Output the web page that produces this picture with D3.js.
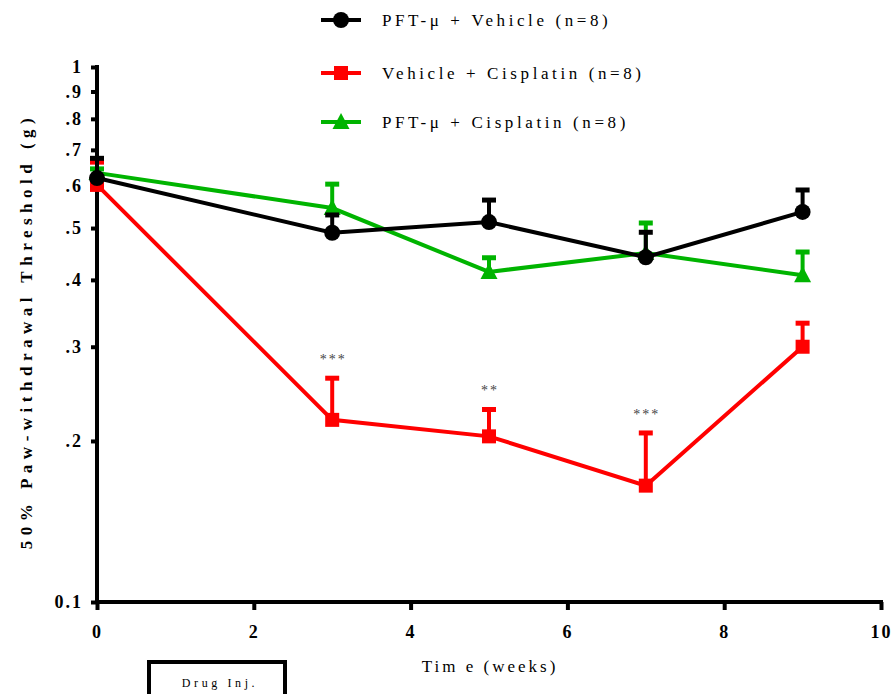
<!DOCTYPE html>
<html>
<head>
<meta charset="utf-8">
<script src="https://cdn.jsdelivr.net/npm/d3@7"></script>
<style>
  body { margin: 0; background: #fff; }
  svg text { font-family: "Liberation Serif", "DejaVu Serif", serif; }
</style>
</head>
<body>
<svg id="chart" width="896" height="694"></svg>
<script>
// ***** Data *****
const weeks = [0, 3, 5, 7, 9];
const seriesNames = ["PFT-\u03bc + Vehicle (n=8)", "Vehicle + Cisplatin (n=8)", "PFT-\u03bc + Cisplatin (n=8)"];
const seriesColors = ["#000000", "#ff0000", "#00b400"];
const seriesShapes = ["circle", "square", "triangle"];
const vehicleMean = [0.62, 0.49, 0.513, 0.441, 0.536];
const vehicleUpper = [0.675, 0.529, 0.564, 0.491, 0.589];
const cisplatinMean = [0.602, 0.219, 0.204, 0.165, 0.300];
const cisplatinUpper = [0.664, 0.262, 0.229, 0.207, 0.332];
const pftCisMean = [0.634, 0.545, 0.414, 0.449, 0.408];
const pftCisUpper = [0.645, 0.604, 0.44, 0.511, 0.451];
const sigMarks = ["", "***", "**", "***", ""];
const yTickValues = [0.1, 0.2, 0.3, 0.4, 0.5, 0.6, 0.7, 0.8, 0.9, 1];
const yTickLabels = ["0.1", ".2", ".3", ".4", ".5", ".6", ".7", ".8", ".9", "1"];
const xTickValues = [0, 2, 4, 6, 8, 10];

const svg = d3.select("#chart");
const xScale = d3.scaleLinear().domain([0, 10]).range([97, 881]);
const yScale = d3.scaleLog().domain([0.1, 1]).range([602, 67]);

// ***** Axes *****
const xAxis = svg.append("g")
  .attr("transform", "translate(0," + 602 + ")")
  .call(d3.axisBottom(xScale).tickValues(xTickValues).tickSize(8).tickSizeOuter(0).tickPadding(15));
xAxis.select(".domain").attr("stroke-width", 4).attr("d", "M95,0H883");
xAxis.selectAll(".tick line").attr("stroke-width", 4);
xAxis.selectAll(".tick text")
  .attr("font-size", 18).attr("font-weight", "bold").attr("fill", "#000")
  .style("letter-spacing", "2px");

const yAxis = svg.append("g")
  .attr("transform", "translate(97,0)")
  .call(d3.axisLeft(yScale).tickValues(yTickValues)
    .tickFormat((d, i) => yTickLabels[i]).tickSize(6).tickSizeOuter(0).tickPadding(8));
yAxis.select(".domain").attr("stroke-width", 4).attr("d", "M0,65V604");
yAxis.selectAll(".tick line").attr("stroke-width", 4);
yAxis.selectAll(".tick text")
  .attr("font-size", 18).attr("font-weight", "bold").attr("fill", "#000")
  .style("letter-spacing", "2px");

// ***** Axis titles *****
svg.append("text")
  .attr("transform", "translate(32,331) rotate(-90)")
  .attr("text-anchor", "middle")
  .attr("font-size", 17).attr("font-weight", "bold")
  .style("letter-spacing", "5.5px")
  .text("50% Paw-withdrawal Threshold (g)");

svg.append("text")
  .attr("x", 490).attr("y", 672)
  .attr("text-anchor", "middle")
  .attr("font-size", 17)
  .style("letter-spacing", "3px")
  .text("Tim e (weeks)");

// Drug injection box
svg.append("rect")
  .attr("x", 149).attr("y", 662).attr("width", 136).attr("height", 50)
  .attr("fill", "none").attr("stroke", "#000").attr("stroke-width", 4);
svg.append("text")
  .attr("x", 220).attr("y", 687).attr("text-anchor", "middle")
  .attr("font-size", 12).style("letter-spacing", "3.6px")
  .text("Drug Inj.");

// ***** Series *****
const series = [
  { mean: pftCisMean, upper: pftCisUpper, idx: 2 },
  { mean: cisplatinMean, upper: cisplatinUpper, idx: 1 },
  { mean: vehicleMean, upper: vehicleUpper, idx: 0 }
];

function drawMarker(g, shape, color) {
  if (shape === "circle") {
    g.append("circle").attr("r", 8).attr("fill", color);
  } else if (shape === "square") {
    g.append("rect").attr("x", -7).attr("y", -7).attr("width", 14).attr("height", 14).attr("fill", color);
  } else {
    g.append("path").attr("d", "M0,-9L8.5,7H-8.5Z").attr("fill", color);
  }
}

const line = d3.line()
  .x((d, i) => xScale(weeks[i]))
  .y(d => yScale(d));

series.forEach(function(s) {
  const color = seriesColors[s.idx];
  const grp = svg.append("g");

  // error bars (upper only)
  weeks.forEach(function(w, i) {
    grp.append("line")
      .attr("x1", xScale(w)).attr("x2", xScale(w))
      .attr("y1", yScale(s.mean[i])).attr("y2", yScale(s.upper[i]))
      .attr("stroke", color).attr("stroke-width", 4);
    grp.append("line")
      .attr("x1", xScale(w) - 7).attr("x2", xScale(w) + 7)
      .attr("y1", yScale(s.upper[i])).attr("y2", yScale(s.upper[i]))
      .attr("stroke", color).attr("stroke-width", 5);
  });

  grp.append("path")
    .datum(s.mean)
    .attr("d", line)
    .attr("fill", "none").attr("stroke", color).attr("stroke-width", 4);

  grp.selectAll(".pt")
    .data(s.mean)
    .enter()
    .append("g")
    .attr("transform", (d, i) => "translate(" + xScale(weeks[i]) + "," + yScale(d) + ")")
    .each(function() { drawMarker(d3.select(this), seriesShapes[s.idx], color); });
});

// significance stars
svg.selectAll(".sig")
  .data(sigMarks)
  .enter()
  .append("text")
  .attr("x", (d, i) => xScale(weeks[i]) + 1)
  .attr("y", (d, i) => yScale(cisplatinUpper[i]) - 14)
  .attr("text-anchor", "middle")
  .attr("font-size", 14).attr("fill", "#444")
  .style("letter-spacing", "2px")
  .text(d => d);

// ***** Legend *****
const legendY = [20, 73, 122];
seriesNames.forEach(function(name, i) {
  const g = svg.append("g").attr("transform", "translate(341," + legendY[i] + ")");
  g.append("line").attr("x1", -20).attr("x2", 20).attr("stroke", seriesColors[i]).attr("stroke-width", 4);
  drawMarker(g, seriesShapes[i], seriesColors[i]);
  g.append("text")
    .attr("x", 41).attr("y", 6)
    .attr("font-size", 17)
    .style("letter-spacing", "3.6px")
    .text(name);
});
</script>
</body>
</html>
